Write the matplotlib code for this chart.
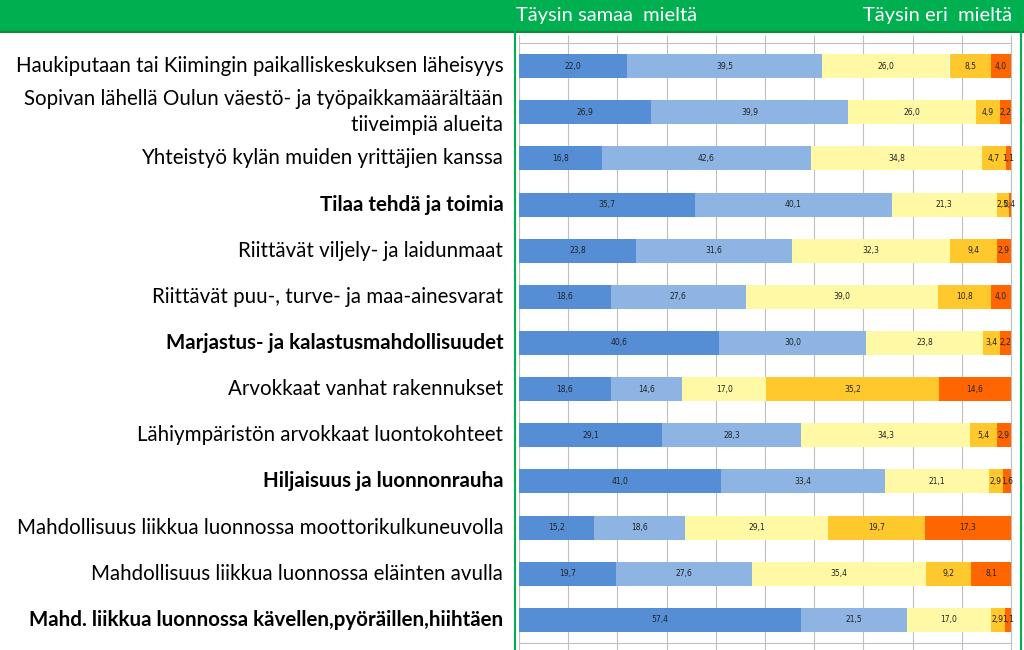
import numpy as np
import matplotlib.pyplot as plt
from matplotlib.patches import Rectangle
from matplotlib.lines import Line2D

categories = [
    "Haukiputaan tai Kiimingin paikalliskeskuksen läheisyys",
    "Sopivan lähellä Oulun väestö- ja työpaikkamäärältään\ntiiveimpiä alueita",
    "Yhteistyö kylän muiden yrittäjien kanssa",
    "Tilaa tehdä ja toimia",
    "Riittävät viljely- ja laidunmaat",
    "Riittävät puu-, turve- ja maa-ainesvarat",
    "Marjastus- ja kalastusmahdollisuudet",
    "Arvokkaat vanhat rakennukset",
    "Lähiympäristön arvokkaat luontokohteet",
    "Hiljaisuus ja luonnonrauha",
    "Mahdollisuus liikkua luonnossa moottorikulkuneuvolla",
    "Mahdollisuus liikkua luonnossa eläinten avulla",
    "Mahd. liikkua luonnossa kävellen,pyöräillen,hiihtäen",
]
bold_rows = [3, 6, 9, 12]

s1 = [22.0, 26.9, 16.8, 35.7, 23.8, 18.6, 40.6, 18.6, 29.1, 41.0, 15.2, 19.7, 57.4]
s2 = [39.5, 39.9, 42.6, 40.1, 31.6, 27.6, 30.0, 14.6, 28.3, 33.4, 18.6, 27.6, 21.5]
s3 = [26.0, 26.0, 34.8, 21.3, 32.3, 39.0, 23.8, 17.0, 34.3, 21.1, 29.1, 35.4, 17.0]
s4 = [8.5, 4.9, 4.7, 2.5, 9.4, 10.8, 3.4, 35.2, 5.4, 2.9, 19.7, 9.2, 2.9]
s5 = [4.0, 2.2, 1.1, 0.4, 2.9, 4.0, 2.2, 14.6, 2.9, 1.6, 17.3, 8.1, 1.1]
series = [s1, s2, s3, s4, s5]
colors = ["#558ED5", "#8DB4E2", "#FFF9A5", "#FFC82C", "#FF6600"]

header_left = "Täysin samaa  mieltä"
header_right = "Täysin eri  mieltä"

fig = plt.figure(figsize=(10.24, 6.5), dpi=100)
green = "#00B050"

# green banner on top
fig.patches.append(Rectangle((0, 1 - 32 / 650), 1, 32 / 650, transform=fig.transFigure,
                             facecolor=green, edgecolor="none", zorder=0))
fig.lines.append(Line2D([0, 1], [1 - 32 / 650] * 2, transform=fig.transFigure,
                        color="#138A3A", lw=1.5))
fig.lines.append(Line2D([515 / 1024] * 2, [0, 1 - 32 / 650], transform=fig.transFigure,
                        color=green, lw=1.5))
fig.lines.append(Line2D([1021 / 1024] * 2, [0, 1 - 32 / 650], transform=fig.transFigure,
                        color=green, lw=1.5))
fig.text(516 / 1024, 1 - 15 / 650, header_left, color="white", fontsize=14.5,
         family="Lato", ha="left", va="center")
fig.text(1012 / 1024, 1 - 15 / 650, header_right, color="white", fontsize=14.5,
         family="Lato", ha="right", va="center")

ax = fig.add_axes([519 / 1024, 7 / 650, 492 / 1024, 600 / 650])
y = np.arange(len(categories))
left = np.zeros(len(categories))
for vals, c in zip(series, colors):
    vals = np.array(vals)
    ax.barh(y, vals, left=left, height=0.52, color=c, edgecolor="none", zorder=3)
    for yi, l, v in zip(y, left, vals):
        ax.text(l + v / 2, yi, f"{v:.1f}".replace(".", ","), ha="center", va="center",
                fontsize=5.5, family=["Liberation Sans Narrow", "DejaVu Sans"],
                color="#222222", zorder=4)
    left += vals

ax.set_xlim(0, 100)
ax.set_ylim(len(categories) - 0.5, -0.5)
ax.set_xticks(np.arange(0, 101, 10))
ax.grid(axis="x", color="#BFBFBF", lw=0.8, zorder=0)
ax.tick_params(axis="x", which="both", top=True, bottom=True, direction="out",
               length=6, color="#BFBFBF", labelbottom=False, labeltop=False)
ax.set_yticks(y)
ax.set_yticklabels([])
ax.tick_params(axis="y", length=0)
for sp in ax.spines.values():
    sp.set_color("#BFBFBF")
    sp.set_linewidth(0.8)

for i, name in enumerate(categories):
    ax.text(-0.032, i, name, transform=ax.get_yaxis_transform(), ha="right", va="center",
            fontsize=14.8, family="Lato", fontweight="bold" if i in bold_rows else "normal",
            linespacing=1.4, color="black")

fig.savefig("out.png", dpi=100)
